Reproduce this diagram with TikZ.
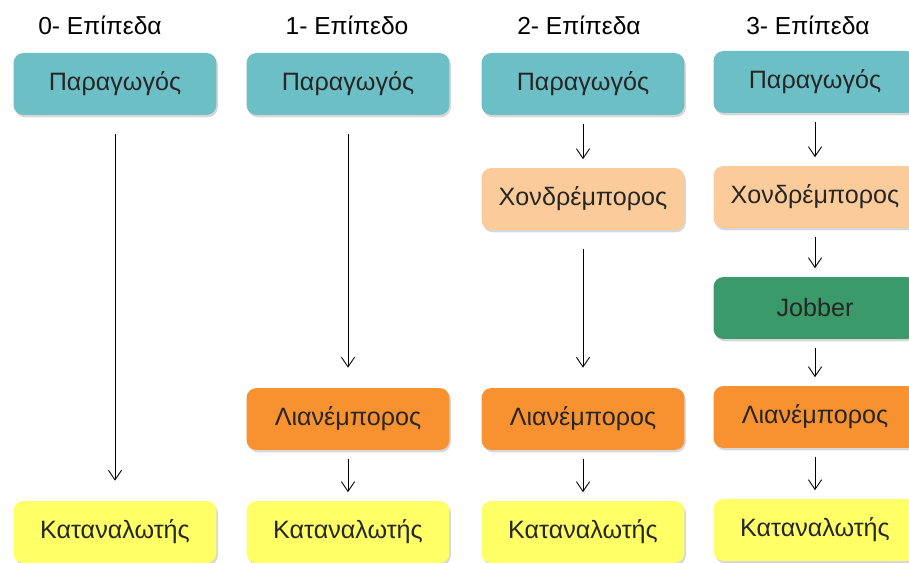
\documentclass[tikz,border=0pt]{standalone}
\usepackage{fontspec}
\setmainfont{Liberation Sans}
\usetikzlibrary{arrows.meta, shadows}

\definecolor{colProd}{HTML}{6DBFC6}
\definecolor{colChondro}{HTML}{FCCB9A}
\definecolor{colJobber}{HTML}{3A9A6A}
\definecolor{colLiano}{HTML}{F8912F}
\definecolor{colKatan}{HTML}{FFFF66}

\tikzset{
	box/.style={rounded corners=0.2cm, minimum width=4.06cm, minimum height=1.24cm,
		inner sep=0pt, font=\fontsize{14.3}{17}\selectfont, text=black!85,
		drop shadow={shadow xshift=0.8pt, shadow yshift=-1.3pt, opacity=0.35, fill=black!45}},
	freccia/.style={-{Straight Barb[length=5.5pt,width=7.5pt,line width=0.5pt]}, line width=0.5pt,
		shorten <=0.17cm, shorten >=0.17cm},
	lunga/.style={shorten <=0.38cm, shorten >=0.4cm},
	titolo/.style={font=\fontsize{14}{16}\selectfont}
}

\begin{document}
\begin{tikzpicture}[x=0.02cm, y=-0.02cm]
	\useasboundingbox (0,0) rectangle (909,563);
	
	% Titoli dei livelli
	\node[titolo] (L0) at (100,25) {0- Επίπεδα};
	\node[titolo] (L1) at (347,25) {1- Επίπεδο};
	\node[titolo] (L2) at (579,25) {2- Επίπεδα};
	\node[titolo] (L3) at (808,25) {3- Επίπεδα};
	
	% Livello 0
	\node[box, fill=colProd] (P0) at (115,84) {Παραγωγός};
	\node[box, fill=colKatan] (C0) at (115,532) {Καταναλωτής};
	
	% Livello 1
	\node[box, fill=colProd] (P1) at (348,84) {Παραγωγός};
	\node[box, fill=colLiano] (R1) at (348,419) {Λιανέμπορος};
	\node[box, fill=colKatan] (C1) at (348,532) {Καταναλωτής};
	
	% Livello 2
	\node[box, fill=colProd] (P2) at (583,84) {Παραγωγός};
	\node[box, fill=colChondro] (W2) at (583,199) {Χονδρέμπορος};
	\node[box, fill=colLiano] (R2) at (583,419) {Λιανέμπορος};
	\node[box, fill=colKatan] (C2) at (583,532) {Καταναλωτής};
	
	% Livello 3
	\node[box, fill=colProd] (P3) at (815,82) {Παραγωγός};
	\node[box, fill=colChondro] (W3) at (815,197) {Χονδρέμπορος};
	\node[box, fill=colJobber] (J3) at (815,308) {Jobber};
	\node[box, fill=colLiano] (R3) at (815,417) {Λιανέμπορος};
	\node[box, fill=colKatan] (C3) at (815,530) {Καταναλωτής};
	
	% Frecce
	\draw[freccia, lunga] (P0) -- (C0);
	\draw[freccia, lunga] (P1) -- (R1);
	\draw[freccia] (R1) -- (C1);
	\draw[freccia] (P2) -- (W2);
	\draw[freccia, lunga] (W2) -- (R2);
	\draw[freccia] (R2) -- (C2);
	\draw[freccia] (P3) -- (W3);
	\draw[freccia] (W3) -- (J3);
	\draw[freccia] (J3) -- (R3);
	\draw[freccia] (R3) -- (C3);
\end{tikzpicture}
\end{document}
